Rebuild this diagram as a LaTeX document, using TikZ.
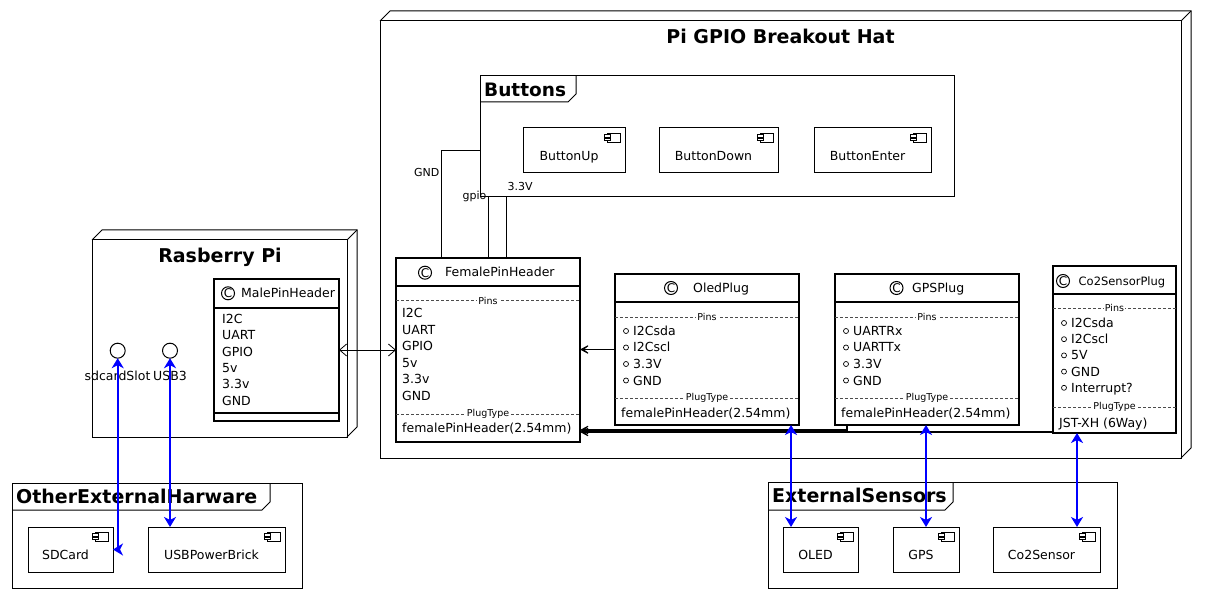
\documentclass[tikz,border=0pt]{standalone}
\usepackage{fontspec}
\setmainfont{DejaVu Sans}
\usetikzlibrary{arrows.meta}
\newcommand\fsz[1]{\fontsize{#1}{#1}\selectfont}
\newcommand\ctext[1]{\hspace*{-10pt}\raisebox{-10pt}[0pt][0pt]{#1}}
\newcommand\compicon[1]{%
  \begin{scope}[shift={(#1.north east)}]
    \draw[fill=white,line width=0.8pt] (-18,5) rectangle (-5,14);
    \draw[fill=white,line width=0.8pt] (-21,6.8) rectangle (-15,9.2);
    \draw[fill=white,line width=0.8pt] (-21,10.3) rectangle (-15,12.7);
  \end{scope}}
\newcommand\csep[4]{% node, y, label, name
  \draw[sepline] (#1.west |- #4) -- (#1.east |- #4);
  \node[seplbl] (#4l) at (#1.center |- #4) {#3};}
\begin{document}
\begin{tikzpicture}[x=1pt,y=-1pt,
  box/.style={draw, line width=1pt, fill=white, inner sep=0pt, outer sep=0pt, anchor=north west, rectangle},
  clsbox/.style={box, line width=1.4pt},
  comp/.style={box, font=\fsz{12.5}},
  it/.style={anchor=base west, inner sep=0pt, font=\fsz{12.5}},
  ctr/.style={anchor=base, inner sep=0pt, font=\fsz{12.5}},
  ttl/.style={anchor=base west, inner sep=0pt, font=\bfseries\fsz{19}},
  sepline/.style={densely dashed, line width=0.5pt, black!70},
  seplbl/.style={fill=white, inner sep=1pt, font=\fsz{9.5}},
  cicon/.style={circle, draw, line width=1pt, minimum size=13pt, inner sep=0pt, fill=white, font=\fsz{12}},
  pin/.style={circle, draw, line width=0.7pt, minimum size=5pt, inner sep=0pt},
  lnk/.style={line width=1pt},
  lbl/.style={inner sep=0pt, font=\fsz{11}},
  barrow/.style={draw=blue, line width=2pt, {Stealth[length=10pt,width=12pt,inset=3pt]}-{Stealth[length=10pt,width=12pt,inset=3pt]}},
  tarrow/.style={line width=1.6pt, -{Stealth[length=13pt,width=14pt,inset=9pt]}},
  darrow/.style={line width=0.8pt, {Straight Barb[length=7pt,width=12pt]}-{Straight Barb[length=7pt,width=12pt]}},
]
\fill[white] (0,0) rectangle (1207,593);
\useasboundingbox (0,0) rectangle (1207,593);

% ---------- Pi GPIO Breakout Hat ----------
\node[box, minimum width=801, minimum height=437] (hat) at (380,21) {};
\draw[line width=1pt] (hat.north west) -- ++(10,-10) -- ++(801,0) -- ++(0,437) -- (hat.south east);
\draw[line width=1pt] (hat.north east) -- ++(10,-10);
\node[ttl, anchor=base] (hatT) at (780.5,43.5) {Pi GPIO Breakout Hat};

% Buttons frame
\node[box, minimum width=474, minimum height=121] (buttons) at (480,76) {};
\draw[line width=1pt] (buttons.north west) ++(0,26) -- ++(88,0) -- ++(8,-8) -- ++(0,-18);
\node[ttl, font=\bfseries\fsz{18.5}] (buttonsT) at (484,97) {Buttons};
\node[comp, minimum width=102, minimum height=45] (bup) at (523,128) {\ctext{ButtonUp}};
\node[comp, minimum width=119, minimum height=45] (bdown) at (659,128) {\ctext{ButtonDown}};
\node[comp, minimum width=117, minimum height=45] (benter) at (814,128) {\ctext{ButtonEnter}};
\compicon{bup}\compicon{bdown}\compicon{benter}

% FemalePinHeader
\node[clsbox, minimum width=184, minimum height=184] (fph) at (396,258) {};
\coordinate (fh1) at (0,286);
\draw[line width=1.2pt] (fph.west |- fh1) -- (fph.east |- fh1);
\node[cicon] (fphC) at (425,272.7) {C};
\node[it] (fphN) at (445,277) {FemalePinHeader};
\coordinate (fs1) at (0,300.5); \csep{fph}{}{Pins}{fs1}
\foreach \t [count=\i from 0] in {I2C,UART,GPIO,5v,3.3v,GND}
  \node[it] (fphI\i) at (402,318+16.5*\i) {\t};
\coordinate (fs2) at (0,414); \csep{fph}{}{PlugType}{fs2}
\node[it] (fphP) at (402,432.5) {femalePinHeader(2.54mm)};

% OledPlug
\node[clsbox, minimum width=184, minimum height=151] (op) at (615,274) {};
\coordinate (oh1) at (0,302);
\draw[line width=1.2pt] (op.west |- oh1) -- (op.east |- oh1);
\node[cicon] (opC) at (671,288) {C};
\node[it] (opN) at (693,292.5) {OledPlug};
\coordinate (os1) at (0,317); \csep{op}{}{Pins}{os1}
\foreach \t [count=\i from 0] in {I2Csda,I2Cscl,3.3V,GND}{
  \node[pin] (opc\i) at (626,331+16.5*\i) {};
  \node[it] (opI\i) at (633,335.5+16.5*\i) {\t};}
\coordinate (os2) at (0,398); \csep{op}{}{PlugType}{os2}
\node[it] (opP) at (621,417.5) {femalePinHeader(2.54mm)};

% GPSPlug
\node[clsbox, minimum width=184, minimum height=151] (gp) at (835,274) {};
\coordinate (gh1) at (0,302);
\draw[line width=1.2pt] (gp.west |- gh1) -- (gp.east |- gh1);
\node[cicon] (gpC) at (896.5,288) {C};
\node[it] (gpN) at (912,292.5) {GPSPlug};
\coordinate (gs1) at (0,317); \csep{gp}{}{Pins}{gs1}
\foreach \t [count=\i from 0] in {UARTRx,UARTTx,3.3V,GND}{
  \node[pin] (gpc\i) at (846,331+16.5*\i) {};
  \node[it] (gpI\i) at (853,335.5+16.5*\i) {\t};}
\coordinate (gs2) at (0,398); \csep{gp}{}{PlugType}{gs2}
\node[it] (gpP) at (841,417.5) {femalePinHeader(2.54mm)};

% Co2SensorPlug
\node[clsbox, minimum width=123, minimum height=167] (cp) at (1053,266) {};
\coordinate (ch1) at (0,294);
\draw[line width=1.2pt] (cp.west |- ch1) -- (cp.east |- ch1);
\node[cicon] (cpC) at (1063,281) {C};
\node[it, font=\fsz{11.5}] (cpN) at (1078.5,285.5) {Co2SensorPlug};
\coordinate (cs1) at (0,308); \csep{cp}{}{Pins}{cs1}
\foreach \t [count=\i from 0] in {I2Csda,I2Cscl,5V,GND,Interrupt?}{
  \node[pin] (cpc\i) at (1064,323+16.2*\i) {};
  \node[it] (cpI\i) at (1071,327.5+16.2*\i) {\t};}
\coordinate (cs2) at (0,407); \csep{cp}{}{PlugType}{cs2}
\node[it] (cpP) at (1059,427.5) {JST-XH (6Way)};

% ---------- Rasberry Pi ----------
\node[box, minimum width=255, minimum height=197] (rpi) at (92,240) {};
\draw[line width=1pt] (rpi.north west) -- ++(10,-10) -- ++(255,0) -- ++(0,197) -- (rpi.south east);
\draw[line width=1pt] (rpi.north east) -- ++(10,-10);
\node[ttl, anchor=base] (rpiT) at (220,263) {Rasberry Pi};

\node[clsbox, minimum width=125, minimum height=142] (mph) at (214,279) {};
\coordinate (mh1) at (0,308); \coordinate (mh2) at (0,413);
\draw[line width=1.2pt] (mph.west |- mh1) -- (mph.east |- mh1);
\draw[line width=1.2pt] (mph.west |- mh2) -- (mph.east |- mh2);
\node[cicon] (mphC) at (228,293.3) {C};
\node[it] (mphN) at (241,297.5) {MalePinHeader};
\foreach \t [count=\i from 0] in {I2C,UART,GPIO,5v,3.3v,GND}
  \node[it] (mphI\i) at (222,323.5+16.3*\i) {\t};

\node[circle, draw, line width=1pt, minimum size=15pt, inner sep=0pt, outer sep=0pt, fill=white] (sd) at (117.7,350.7) {};
\node[circle, draw, line width=1pt, minimum size=15pt, inner sep=0pt, outer sep=0pt, fill=white] (usb) at (170,350.7) {};
\node[ctr] (sdl) at (117.5,380.5) {sdcardSlot};
\node[ctr] (usbl) at (170,380.5) {USB3};

% ---------- OtherExternalHarware ----------
\node[box, minimum width=290, minimum height=105] (oeh) at (12,483) {};
\draw[line width=1pt] (oeh.north west) ++(0,27) -- ++(250,0) -- ++(8,-8) -- ++(0,-19);
\node[ttl] (oehT) at (16,503) {OtherExternalHarware};
\node[comp, minimum width=85, minimum height=45] (sdc) at (28,527) {\ctext{SDCard}};
\node[comp, minimum width=137, minimum height=45] (ubp) at (148,527) {\ctext{USBPowerBrick}};
\compicon{sdc}\compicon{ubp}

% ---------- ExternalSensors ----------
\node[box, minimum width=349, minimum height=106] (exs) at (768,482) {};
\draw[line width=1pt] (exs.north west) ++(0,28) -- ++(177,0) -- ++(8,-8) -- ++(0,-20);
\node[ttl] (exsT) at (772,502) {ExternalSensors};
\node[comp, minimum width=75, minimum height=45] (oled) at (783,527) {\ctext{OLED}};
\node[comp, minimum width=66, minimum height=45] (gps) at (893,527) {\ctext{GPS}};
\node[comp, minimum width=107, minimum height=45] (co2) at (993,527) {\ctext{Co2Sensor}};
\compicon{oled}\compicon{gps}\compicon{co2}

% ---------- links to Buttons ----------
\coordinate (xgnd) at (441,0); \coordinate (ygnd) at (0,151);
\coordinate (xgpio) at (488,0); \coordinate (xvcc) at (506,0);
\draw[lnk] (fph.north -| xgnd) |- (buttons.west |- ygnd);
\draw[lnk] (fph.north -| xgpio) -- (buttons.south -| xgpio);
\draw[lnk] (fph.north -| xvcc) -- (buttons.south -| xvcc);
\node[lbl, anchor=base east] (lgnd) at (439.5,177) {GND};
\node[lbl, anchor=base east] (lgpio) at (486.5,200) {gpio};
\node[lbl, anchor=base west] (lvcc) at (507.5,191) {3.3V};

% ---------- black connectors ----------
\draw[darrow] (mph.east) -- (fph.west);
\draw[tarrow] (op.west) -- (op.west -| fph.east);
\draw[tarrow] ([xshift=12pt]gp.south west) -- ++(0,5) coordinate (gpk) -- (gpk -| fph.east);
\coordinate (cpk) at ([yshift=1pt]cp.south west);
\draw[tarrow] (cpk) -- (cpk -| fph.east);

% ---------- blue connectors ----------
\coordinate (xo) at (791,0); \coordinate (xg) at (926,0); \coordinate (xc) at (1077,0);
\draw[barrow] (sd.south) -- (sd.south |- sdc.east) -- (sdc.east);
\draw[barrow] (usb.south) -- (usb.south |- ubp.north);
\draw[barrow] (op.south -| xo) -- (oled.north -| xo);
\draw[barrow] (gp.south -| xg) -- (gps.north -| xg);
\draw[barrow] (cp.south -| xc) -- (co2.north -| xc);
\end{tikzpicture}
\end{document}
